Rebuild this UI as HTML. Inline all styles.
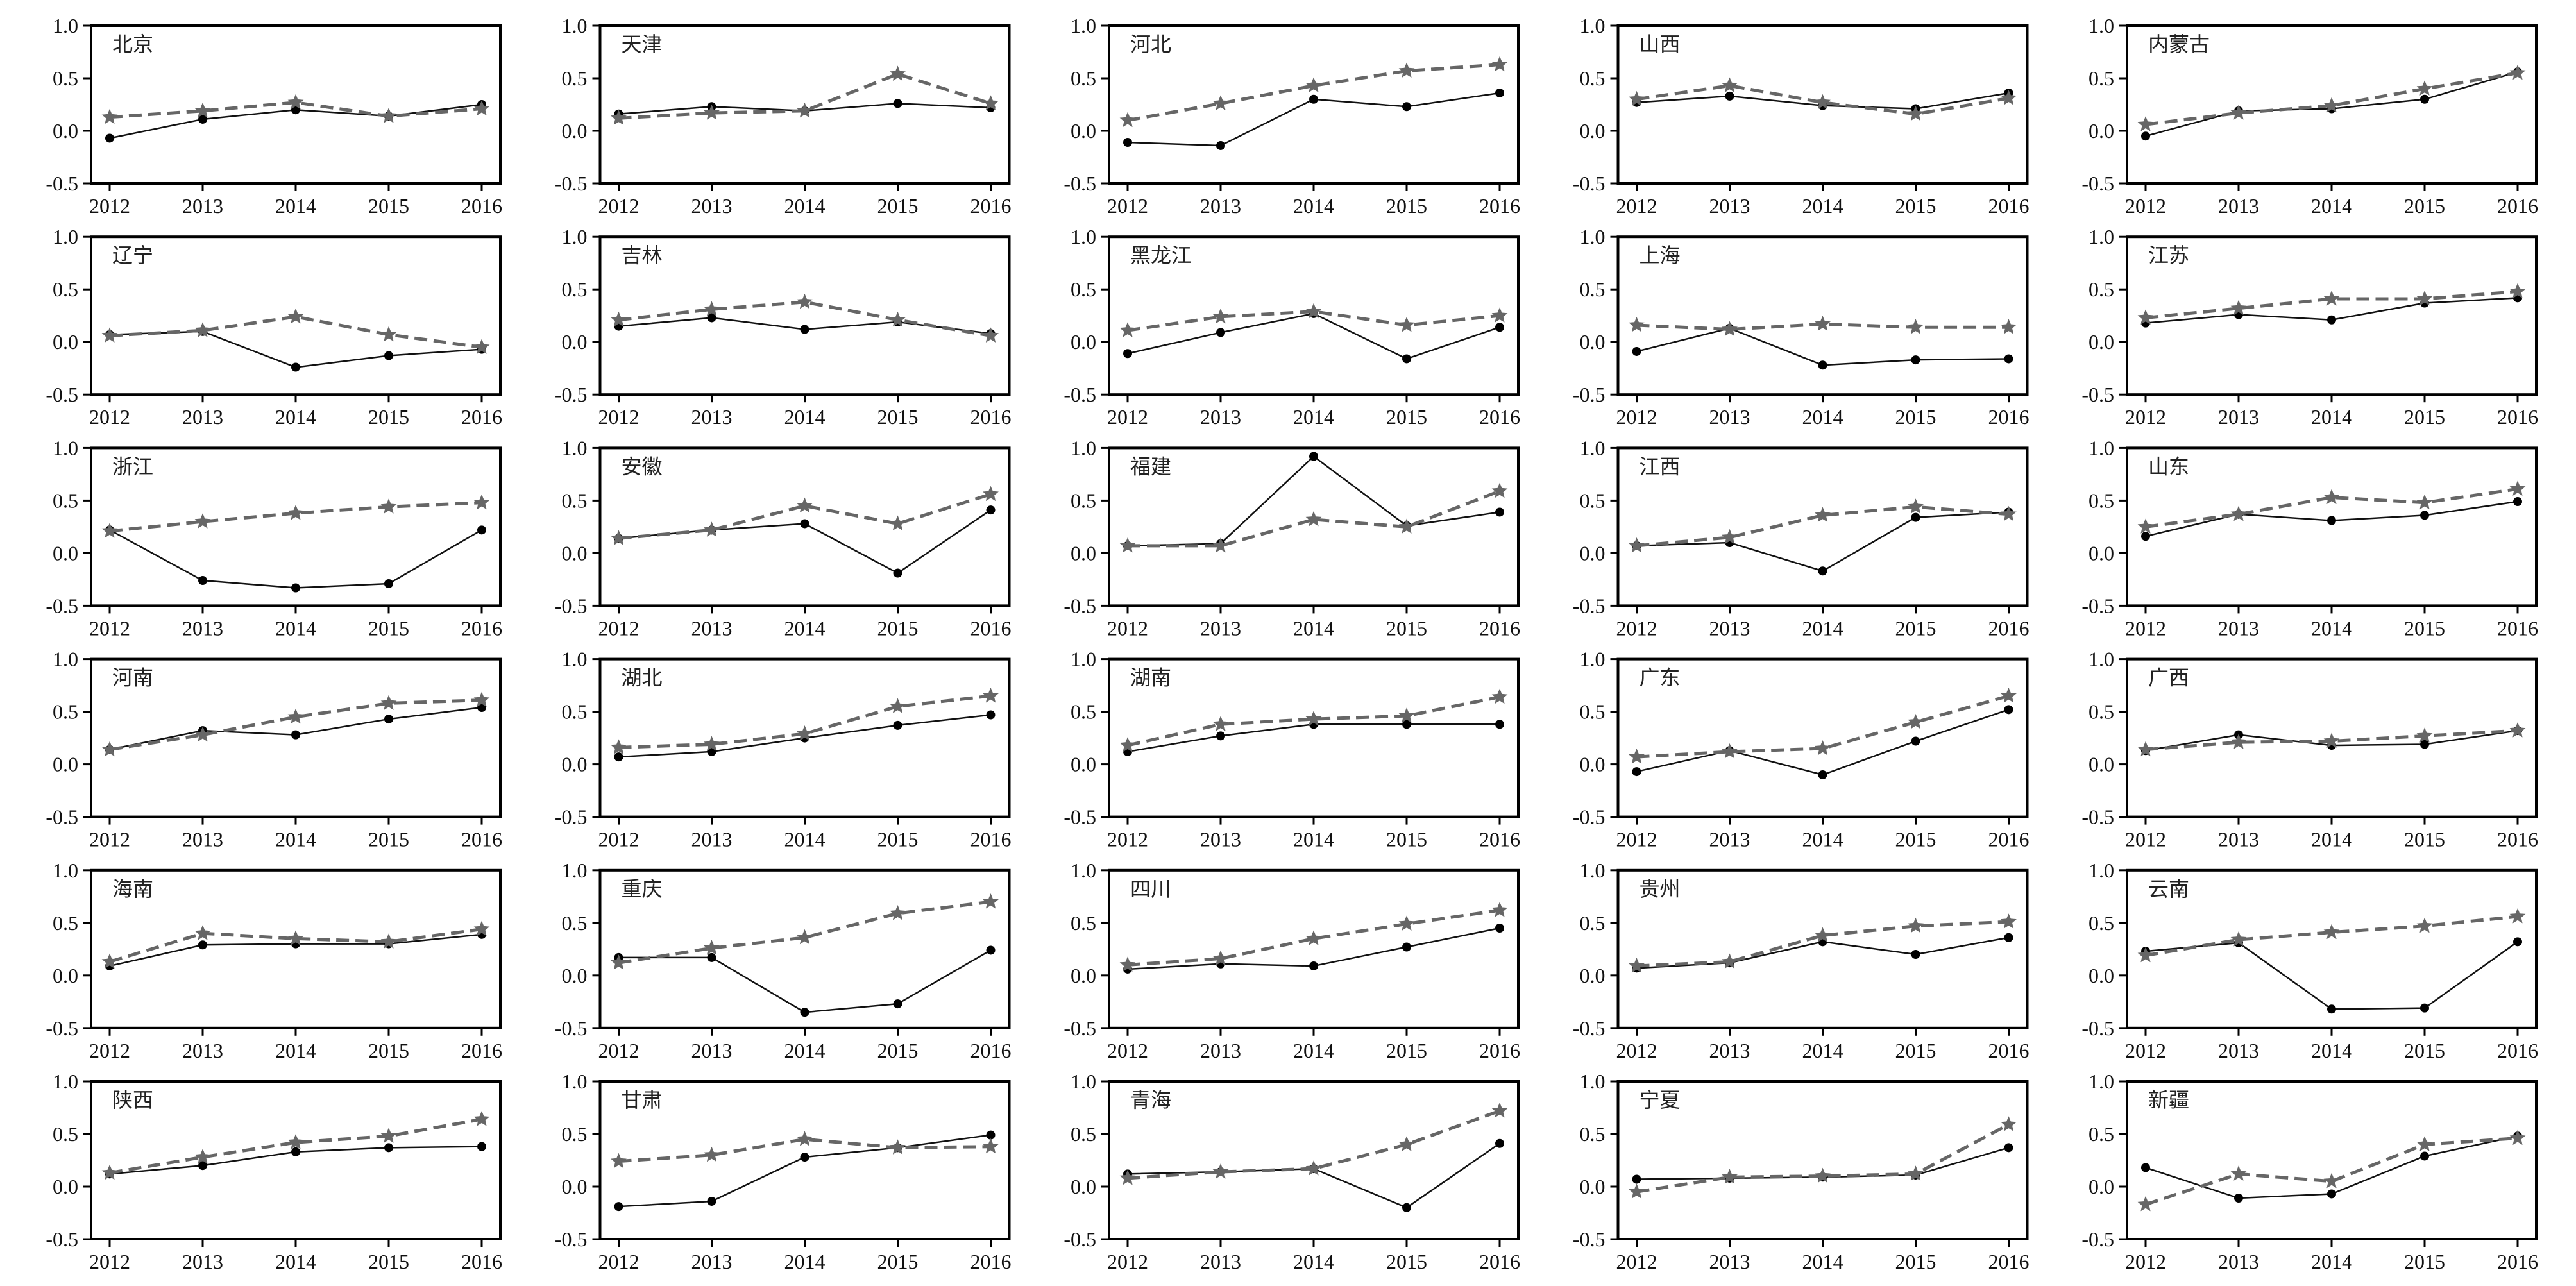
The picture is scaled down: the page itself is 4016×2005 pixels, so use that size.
<!DOCTYPE html>
<html><head><meta charset="utf-8">
<style>html,body{margin:0;padding:0;background:#fff}svg{display:block}</style></head>
<body>
<svg id="s" xmlns="http://www.w3.org/2000/svg" width="4016" height="2005" viewBox="0 0 4016 2005"></svg>
<script>
const D=[
["北京",[-0.07,0.11,0.20,0.14,0.25],[0.13,0.19,0.27,0.14,0.21]],
["天津",[0.16,0.23,0.19,0.26,0.22],[0.12,0.17,0.19,0.54,0.26]],
["河北",[-0.11,-0.14,0.30,0.23,0.36],[0.10,0.26,0.43,0.57,0.63]],
["山西",[0.27,0.33,0.24,0.21,0.36],[0.30,0.43,0.27,0.16,0.31]],
["内蒙古",[-0.05,0.19,0.21,0.30,0.56],[0.06,0.17,0.24,0.40,0.55]],
["辽宁",[0.07,0.10,-0.24,-0.13,-0.07],[0.06,0.11,0.24,0.07,-0.05]],
["吉林",[0.15,0.23,0.12,0.19,0.08],[0.21,0.31,0.38,0.21,0.06]],
["黑龙江",[-0.11,0.09,0.27,-0.16,0.14],[0.11,0.24,0.29,0.16,0.25]],
["上海",[-0.09,0.13,-0.22,-0.17,-0.16],[0.16,0.12,0.17,0.14,0.14]],
["江苏",[0.18,0.26,0.21,0.37,0.42],[0.23,0.32,0.41,0.41,0.48]],
["浙江",[0.22,-0.26,-0.33,-0.29,0.22],[0.21,0.30,0.38,0.44,0.48]],
["安徽",[0.14,0.22,0.28,-0.19,0.41],[0.14,0.22,0.45,0.28,0.56]],
["福建",[0.07,0.09,0.92,0.26,0.39],[0.07,0.07,0.32,0.25,0.59]],
["江西",[0.07,0.10,-0.17,0.34,0.39],[0.07,0.15,0.36,0.44,0.37]],
["山东",[0.16,0.37,0.31,0.36,0.49],[0.25,0.37,0.53,0.48,0.61]],
["河南",[0.14,0.32,0.28,0.43,0.54],[0.14,0.28,0.45,0.58,0.61]],
["湖北",[0.07,0.12,0.25,0.37,0.47],[0.16,0.19,0.29,0.55,0.65]],
["湖南",[0.12,0.27,0.38,0.38,0.38],[0.18,0.38,0.43,0.46,0.64]],
["广东",[-0.07,0.13,-0.10,0.22,0.52],[0.07,0.12,0.15,0.40,0.65]],
["广西",[0.13,0.28,0.18,0.19,0.32],[0.14,0.21,0.22,0.27,0.32]],
["海南",[0.09,0.29,0.30,0.30,0.39],[0.13,0.40,0.35,0.32,0.44]],
["重庆",[0.17,0.17,-0.35,-0.27,0.24],[0.12,0.26,0.36,0.59,0.70]],
["四川",[0.06,0.11,0.09,0.27,0.45],[0.10,0.16,0.35,0.49,0.62]],
["贵州",[0.07,0.12,0.32,0.20,0.36],[0.09,0.13,0.38,0.47,0.51]],
["云南",[0.23,0.31,-0.32,-0.31,0.32],[0.19,0.34,0.41,0.47,0.56]],
["陕西",[0.12,0.20,0.33,0.37,0.38],[0.13,0.28,0.42,0.48,0.64]],
["甘肃",[-0.19,-0.14,0.28,0.37,0.49],[0.24,0.30,0.45,0.37,0.38]],
["青海",[0.12,0.14,0.17,-0.20,0.41],[0.08,0.14,0.17,0.40,0.72]],
["宁夏",[0.07,0.08,0.09,0.11,0.37],[-0.05,0.09,0.10,0.12,0.59]],
["新疆",[0.18,-0.11,-0.07,0.29,0.48],[-0.17,0.12,0.05,0.40,0.46]]];
let h='';
const W=638,H=246;
const FF="'Liberation Serif', serif";
function star(cx,cy,R){let p=[];for(let i=0;i<10;i++){const r=i%2?R*0.45:R;const a=-Math.PI/2+i*Math.PI/5;p.push((cx+r*Math.cos(a)).toFixed(1)+','+(cy+r*Math.sin(a)).toFixed(1));}return `<polygon points="${p.join(' ')}" fill="#666"/>`;}
D.forEach((d,k)=>{const r=Math.floor(k/5),c=k%5;
 const L=142+c*793.5,T=40+r*329.2;
 const X=i=>L+29+i*(W-58)/4, Y=v=>T+(1-v)/1.5*H;
 [1.0,0.5,0.0,-0.5].forEach(v=>{const y=Y(v);h+=`<line x1="${L-12}" y1="${y}" x2="${L}" y2="${y}" stroke="#000" stroke-width="3"/>`;
  h+=`<text x="${L-20}" y="${y+11}" text-anchor="end" font-family="${FF}" font-size="32" fill="#111">${v.toFixed(1)}</text>`;});
 for(let i=0;i<5;i++){const x=X(i);h+=`<line x1="${x}" y1="${T+H}" x2="${x}" y2="${T+H+12}" stroke="#000" stroke-width="3"/>`;
  h+=`<text x="${x}" y="${T+H+46}" text-anchor="middle" font-family="${FF}" font-size="32" fill="#111">${2012+i}</text>`;}
 h+=`<rect x="${L}" y="${T}" width="${W}" height="${H}" fill="none" stroke="#000" stroke-width="4"/>`;
 h+=`<text x="${L+33}" y="${T+40}" font-family="'Noto Sans CJK SC', sans-serif" font-size="32" fill="#222">${d[0]}</text>`;
 const ps=d[1].map((v,i)=>X(i)+','+Y(v)).join(' ');
 const pd=d[2].map((v,i)=>X(i)+','+Y(v)).join(' ');
 h+=`<polyline points="${ps}" fill="none" stroke="#111" stroke-width="2.5"/>`;
 d[1].forEach((v,i)=>h+=`<circle cx="${X(i)}" cy="${Y(v)}" r="7" fill="#000"/>`);
 h+=`<polyline points="${pd}" fill="none" stroke="#666" stroke-width="5" stroke-dasharray="20 10"/>`;
 d[2].forEach((v,i)=>h+=star(X(i),Y(v),13));
});
document.getElementById('s').innerHTML=h;
</script>
</body></html>
